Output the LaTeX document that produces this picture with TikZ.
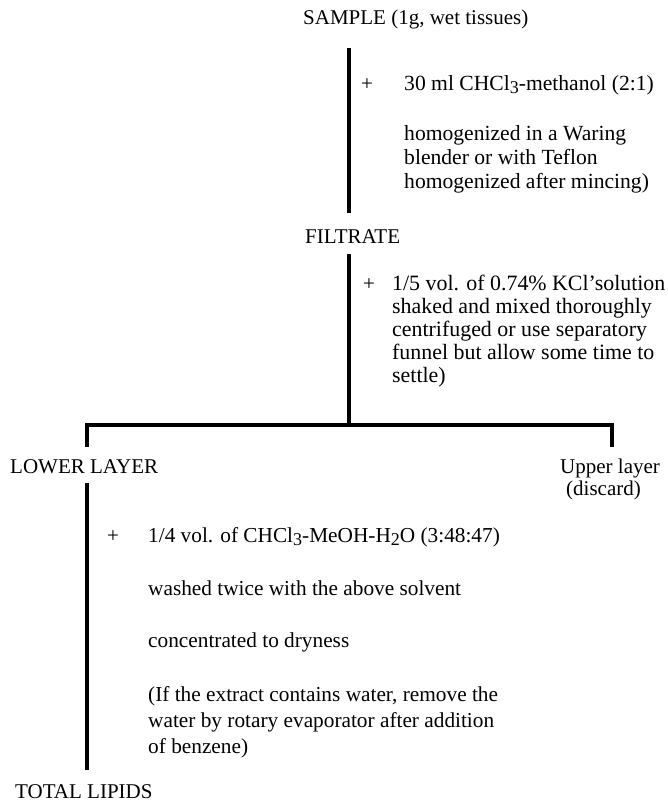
\documentclass[tikz,border=0pt]{standalone}
\usepackage{fontspec}
\setmainfont{Liberation Serif}
\newcommand\mysub[1]{\raisebox{-3.5pt}{\fontsize{18}{18}\selectfont #1}}
\begin{document}
\begin{tikzpicture}[x=1pt,y=-1pt,
  txt/.style={font=\fontsize{21}{23.5}\selectfont, inner sep=0pt, anchor=base west},
  txta/.style={txt, font=\fontsize{21.6}{23.5}\selectfont},
  txtb/.style={txt, font=\fontsize{21.9}{23.5}\selectfont},
  txtc/.style={txt, font=\fontsize{21.3}{23.5}\selectfont},
  plus/.style={font=\fontsize{21}{23.5}\selectfont, inner sep=0pt, anchor=base},
  flow/.style={line width=4.5pt, black, line join=miter, line cap=butt}]
\useasboundingbox[fill=white] (0,0) rectangle (667,808);
% main stages
\node[txt] (sample) at (303,25) {SAMPLE (1g, wet tissues)};
\node[txt] (filtrate) at (305,243) {FILTRATE};
\node[txt] (lower) at (10,473) {LOWER LAYER};
\node[txt] (upper) at (560,473) {Upper layer};
\node[txt] (discard) at (566,495) {(discard)};
\node[txt] (total) at (15,798) {TOTAL LIPIDS};
% step 1
\node[plus] (p1) at (367,90) {+};
\node[txta] (a1) at (404,90) {30 ml CHCl\mysub{3}-methanol (2:1)};
\node[txta] (a2) at (404,140) {homogenized in a Waring};
\node[txta] (a3) at (404,164) {blender or with Teflon};
\node[txta] (a4) at (404,188) {homogenized after mincing)};
% step 2
\node[plus] (p2) at (369,290) {+};
\node[txtb] (b1) at (392,290) {1/5 vol. of 0.74\% KCl'solution};
\node[txtb] (b2) at (392,313) {shaked and mixed thoroughly};
\node[txtb] (b3) at (392,336) {centrifuged or use separatory};
\node[txtb] (b4) at (392,359) {funnel but allow some time to};
\node[txtb] (b5) at (392,382) {settle)};
% step 3
\node[plus] (p3) at (113,542) {+};
\node[txtc] (c1) at (148,542) {1/4 vol. of CHCl\mysub{3}-MeOH-H\mysub{2}O (3:48:47)};
\node[txtc] (c2) at (148,595) {washed twice with the above solvent};
\node[txtc] (c3) at (148,647) {concentrated to dryness};
\node[txtc] (c4) at (148,701) {(If the extract contains water, remove the};
\node[txtc] (c5) at (148,727) {water by rotary evaporator after addition};
\node[txtc] (c6) at (148,753) {of benzene)};
% connector end points
\coordinate (v1t) at (349,48);
\coordinate (v1b) at (349,213);
\coordinate (v2t) at (349,254);
\coordinate (v2b) at (349,425);
\coordinate (bl) at (87,425);
\coordinate (br) at (612,425);
\coordinate (bld) at (87,447);
\coordinate (brd) at (612,447);
\coordinate (v3t) at (87,483);
\coordinate (v3b) at (87,770);
\draw[flow] (v1t) -- (v1b);
\draw[flow] (v2t) -- (v2b);
\draw[flow] (bld) -- (bl) -- (br) -- (brd);
\draw[flow] (v3t) -- (v3b);
\end{tikzpicture}
\end{document}
